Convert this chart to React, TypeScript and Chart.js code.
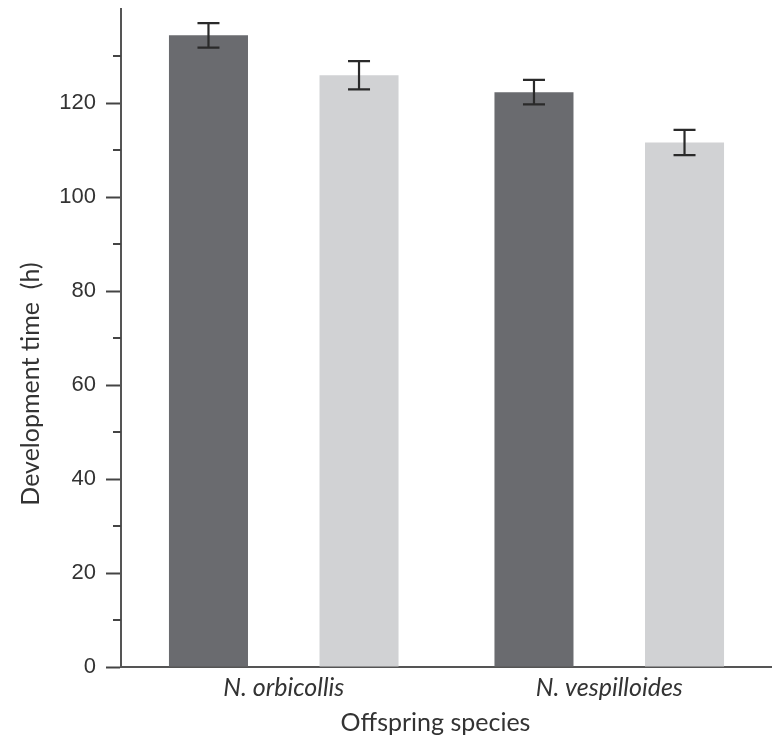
import React, { useEffect, useRef } from "react";
import { Chart, registerables } from "chart.js";

Chart.register(...registerables);

const categories = ["N. orbicollis", "N. vespilloides"];
const darkValues = [134.4, 122.3];
const darkErrors = [2.6, 2.6];
const lightValues = [125.9, 111.6];
const lightErrors = [3.0, 2.7];
const majorTicks = [0, 20, 40, 60, 80, 100, 120];
const minorTicks = [10, 30, 50, 70, 90, 110, 130];
const yTitle = "Development time  (h)";
const xTitle = "Offspring species";

const errors = [darkErrors, lightErrors];

const errorBarPlugin = {
  id: "errorBars",
  afterDatasetsDraw(chart: any) {
    const ctx = chart.ctx;
    const yScale = chart.scales.y;
    ctx.save();
    ctx.strokeStyle = "#2a2a2a";
    ctx.lineWidth = 2.2;
    chart.data.datasets.forEach((ds: any, i: number) => {
      const meta = chart.getDatasetMeta(i);
      meta.data.forEach((el: any, j: number) => {
        const v = ds.data[j];
        const e = errors[i][j];
        const x = el.x;
        const yHi = yScale.getPixelForValue(v + e);
        const yLo = yScale.getPixelForValue(v - e);
        const cap = 11;
        ctx.beginPath();
        ctx.moveTo(x, yHi);
        ctx.lineTo(x, yLo);
        ctx.moveTo(x - cap, yHi);
        ctx.lineTo(x + cap, yHi);
        ctx.moveTo(x - cap, yLo);
        ctx.lineTo(x + cap, yLo);
        ctx.stroke();
      });
    });
    ctx.restore();
  },
};

const axisExtrasPlugin = {
  id: "axisExtras",
  afterDraw(chart: any) {
    const ctx = chart.ctx;
    const yScale = chart.scales.y;
    const area = chart.chartArea;
    ctx.save();
    ctx.strokeStyle = "#444";
    ctx.lineWidth = 2;
    minorTicks.forEach((v) => {
      const y = Math.round(yScale.getPixelForValue(v));
      ctx.beginPath();
      ctx.moveTo(area.left - 8, y);
      ctx.lineTo(area.left, y);
      ctx.stroke();
    });
    ctx.fillStyle = "#333";
    ctx.font = "25px Lato";
    // x-axis title
    ctx.textAlign = "center";
    ctx.textBaseline = "alphabetic";
    ctx.fillText(xTitle, (area.left + area.right) / 2 - 11, area.bottom + 64);
    // rotated y-axis title
    ctx.textBaseline = "middle";
    ctx.translate(31, (area.top + area.bottom) / 2 + 46);
    ctx.rotate(-Math.PI / 2);
    ctx.fillText(yTitle, 0, 0);
    ctx.restore();
  },
};

export default function App() {
  const ref = useRef<HTMLCanvasElement | null>(null);

  useEffect(() => {
    if (!ref.current) return;
    const chart = new Chart(ref.current, {
      type: "bar",
      data: {
        labels: categories,
        datasets: [
          {
            label: "dark",
            data: darkValues,
            backgroundColor: "#6a6b6f",
            categoryPercentage: 0.925,
            barPercentage: 0.525,
          },
          {
            label: "light",
            data: lightValues,
            backgroundColor: "#d1d2d4",
            categoryPercentage: 0.925,
            barPercentage: 0.525,
          },
        ],
      },
      options: {
        animation: false,
        responsive: false,
        maintainAspectRatio: false,
        layout: { padding: { top: 9, right: 0, left: 0, bottom: 0 } },
        plugins: {
          legend: { display: false },
          tooltip: { enabled: false },
        },
        scales: {
          x: {
            afterFit: (s: any) => {
              s.height = 74;
              s.paddingLeft = 0;
              s.paddingRight = 0;
            },
            grid: { display: true, drawOnChartArea: false, drawTicks: false },
            border: { display: true, color: "#555", width: 2 },
            ticks: {
              padding: 6,
              color: "#333",
              font: { family: "Lato", size: 25, style: "italic" },
            },
          },
          y: {
            min: 0,
            max: 140,
            afterFit: (s: any) => {
              s.width = 121;
              s.paddingTop = 0;
              s.paddingBottom = 0;
            },
            afterBuildTicks: (s: any) => {
              s.ticks = majorTicks.map((v) => ({ value: v }));
            },
            grid: {
              display: true,
              drawOnChartArea: false,
              drawTicks: true,
              tickLength: 15,
              tickWidth: 2,
              tickColor: "#444",
            },
            border: { display: true, color: "#555", width: 2 },
            ticks: {
              padding: 10,
              color: "#333",
              font: { family: "Liberation Sans", size: 22 },
            },
          },
        },
      },
      plugins: [errorBarPlugin, axisExtrasPlugin],
    });
    return () => chart.destroy();
  }, []);

  return (
    <div style={{ position: "absolute", left: 0, top: 0, width: 772, height: 741, background: "#fff" }}>
      <canvas ref={ref} width={772} height={741} />
    </div>
  );
}
